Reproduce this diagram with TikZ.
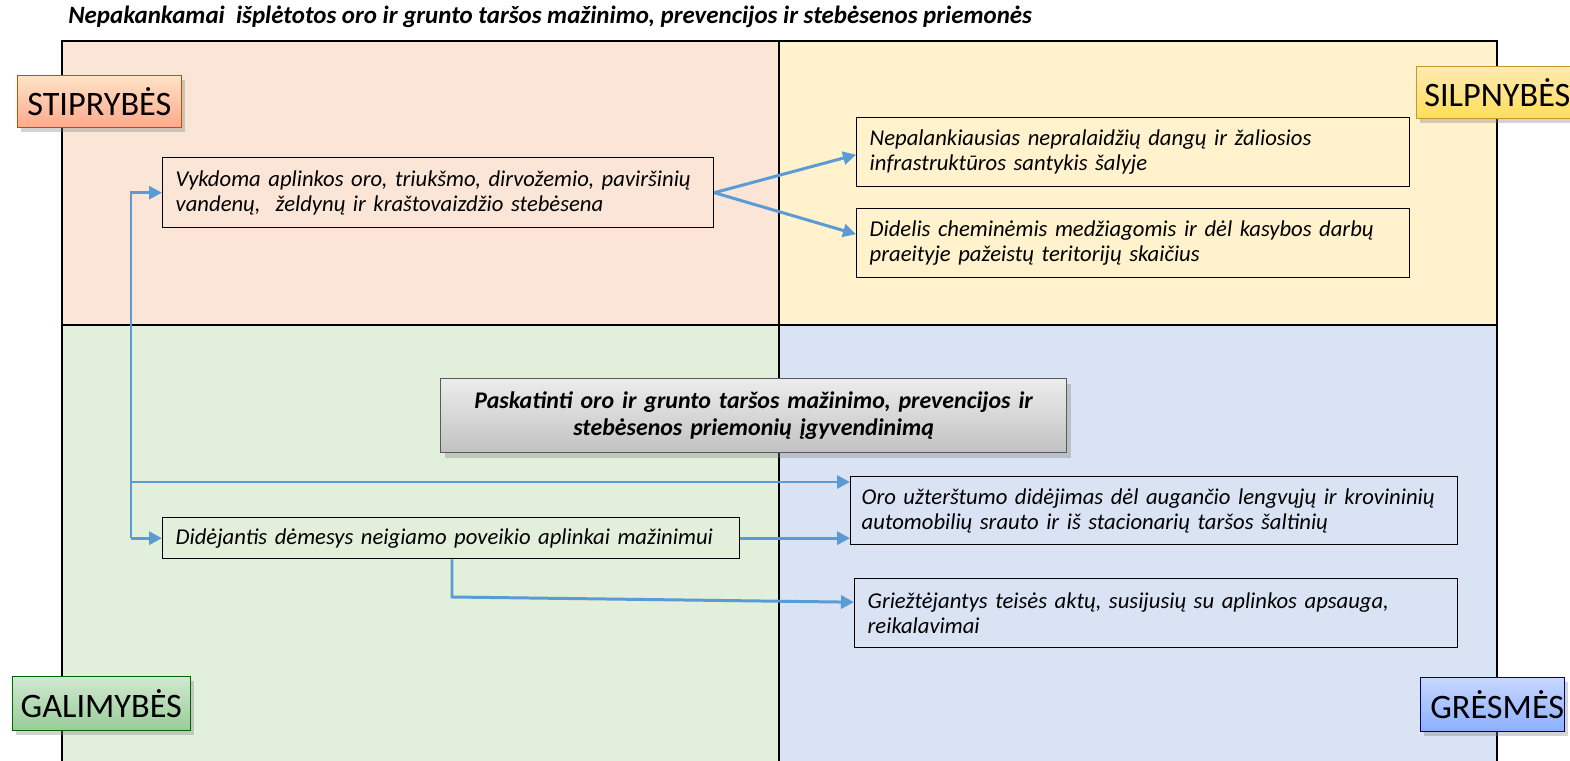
\documentclass[tikz,border=0pt]{standalone}
\usepackage{fontspec}
\setmainfont{Carlito}
\usetikzlibrary{positioning,shadows,arrows.meta}
\definecolor{qpeach}{HTML}{FBE5D6}
\definecolor{qyellow}{HTML}{FFF2CC}
\definecolor{qgreen}{HTML}{E2EFDA}
\definecolor{qblue}{HTML}{DAE3F3}
\definecolor{arrblue}{HTML}{5B9BD5}
\tikzstyle{txt}=[draw=black,thick,anchor=north west,align=left,inner xsep=0.26cm,font=\itshape\fontsize{12.9}{14.4}\selectfont]
\tikzstyle{lbl}=[draw,anchor=north west,inner sep=0pt,font=\fontsize{19.5}{22}\selectfont,drop shadow={opacity=0.35,shadow xshift=0.08cm,shadow yshift=-0.1cm}]
\tikzstyle{arr}=[draw=arrblue,line width=1.7pt,-{Triangle[length=0.26cm,width=0.26cm]}]

\begin{document}
\begin{tikzpicture}[x=0.02cm,y=-0.02cm]
\useasboundingbox (0,0) rectangle (1570,761);
% quadrants
\fill[qpeach] (62,41) rectangle (779,325);
\fill[qyellow] (779,41) rectangle (1497,325);
\fill[qgreen] (62,325) rectangle (779,761);
\fill[qblue] (779,325) rectangle (1497,761);
\draw[thick] (62,761) -- (62,41) -- (1497,41) -- (1497,761);
\draw[thick] (779,41) -- (779,761); \draw[thick] (62,325) -- (1497,325);
\node[anchor=west,inner sep=0pt,font=\bfseries\itshape\fontsize{14.2}{16}\selectfont] (title) at (68,17) {Nepakankamai \ išplėtotos oro ir grunto taršos mažinimo, prevencijos ir stebėsenos priemonės};
% SSGG labels
\node[lbl,draw=orange!70!black,top color=orange!22,bottom color=orange!50!red!45,minimum width=3.28cm,minimum height=1.04cm] (stip) at (17,75) {STIPRYBĖS};
\node[lbl,draw=yellow!40!orange!75!black,top color=yellow!45!orange!30,bottom color=yellow!60!orange!65,minimum height=1.04cm,inner xsep=0pt] (silp) at (1416,66) {\hspace{0.16cm}SILPNYBĖS\hspace{0.5cm}};
\node[lbl,draw=green!40!black,top color=green!50!black!18,bottom color=green!50!black!40,minimum width=3.56cm,minimum height=1.08cm] (gal) at (12,676) {GALIMYBĖS};
\node[lbl,draw=blue!45!black,top color=cyan!30!blue!22,bottom color=cyan!30!blue!45,minimum height=1.08cm] (gres) at (1420,677) {\hspace{0.2cm}GRĖSMĖS\hspace{0.5cm}};
% text boxes
\node[txt,fill=qpeach,minimum width=11.02cm,minimum height=1.4cm,text width=10.5cm] (vyk) at (162,157) {Vykdoma aplinkos oro, triukšmo, dirvožemio, paviršinių\\vandenų, \ želdynų ir kraštovaizdžio stebėsena};
\node[txt,fill=qyellow,minimum width=11.06cm,minimum height=1.38cm,text width=10.54cm] (nep) at (856,117) {Nepalankiausias nepralaidžių dangų ir žaliosios\\infrastruktūros santykis šalyje};
\node[txt,fill=qyellow,minimum width=11.06cm,minimum height=1.38cm,text width=10.54cm] (did) at (856,208) {Didelis cheminėmis medžiagomis ir dėl kasybos darbų\\praeityje pažeistų teritorijų skaičius};
\node[txt,draw=gray!70!black,top color=gray!15,bottom color=gray!48,align=center,font=\bfseries\itshape\fontsize{13.6}{15.2}\selectfont,minimum width=12.52cm,minimum height=1.48cm,text width=12cm,drop shadow={opacity=0.35,shadow xshift=0.08cm,shadow yshift=-0.1cm}] (pask) at (440,378) {Paskatinti oro ir grunto taršos mažinimo, prevencijos ir\\stebėsenos priemonių įgyvendinimą};
\node[txt,fill=qblue,inner xsep=0.22cm,minimum width=12.14cm,minimum height=1.36cm,text width=11.7cm] (oro) at (850,476) {Oro užterštumo didėjimas dėl augančio lengvųjų ir krovininių\\automobilių srauto ir iš stacionarių taršos šaltinių};
\node[txt,fill=qgreen,minimum width=11.54cm,minimum height=0.82cm,text width=11.02cm] (dem) at (162,517) {Didėjantis dėmesys neigiamo poveikio aplinkai mažinimui};
\node[txt,fill=qblue,minimum width=12.06cm,minimum height=1.38cm,text width=11.54cm] (grz) at (854,578) {Griežtėjantys teisės aktų, susijusių su aplinkos apsauga,\\reikalavimai};
% connectors
\coordinate (trk) at (131,482);
\coordinate (drop) at (452,597);
\draw[arr] (vyk.east) -- ([yshift=-0.05cm]nep.west);
\draw[arr] (vyk.east) -- ([yshift=0.18cm]did.west);
\draw[arr] (trk |- dem.west) |- (vyk.west);
\draw[arr] (trk |- dem.west) -- (dem.west);
\draw[arr] (trk) -- (trk -| oro.west);
\draw[arr] (dem.east) -- (dem.east -| oro.west);
\draw[arr] (drop |- dem.south) -- (drop) -- ([yshift=0.22cm]grz.west);
\end{tikzpicture}
\end{document}
